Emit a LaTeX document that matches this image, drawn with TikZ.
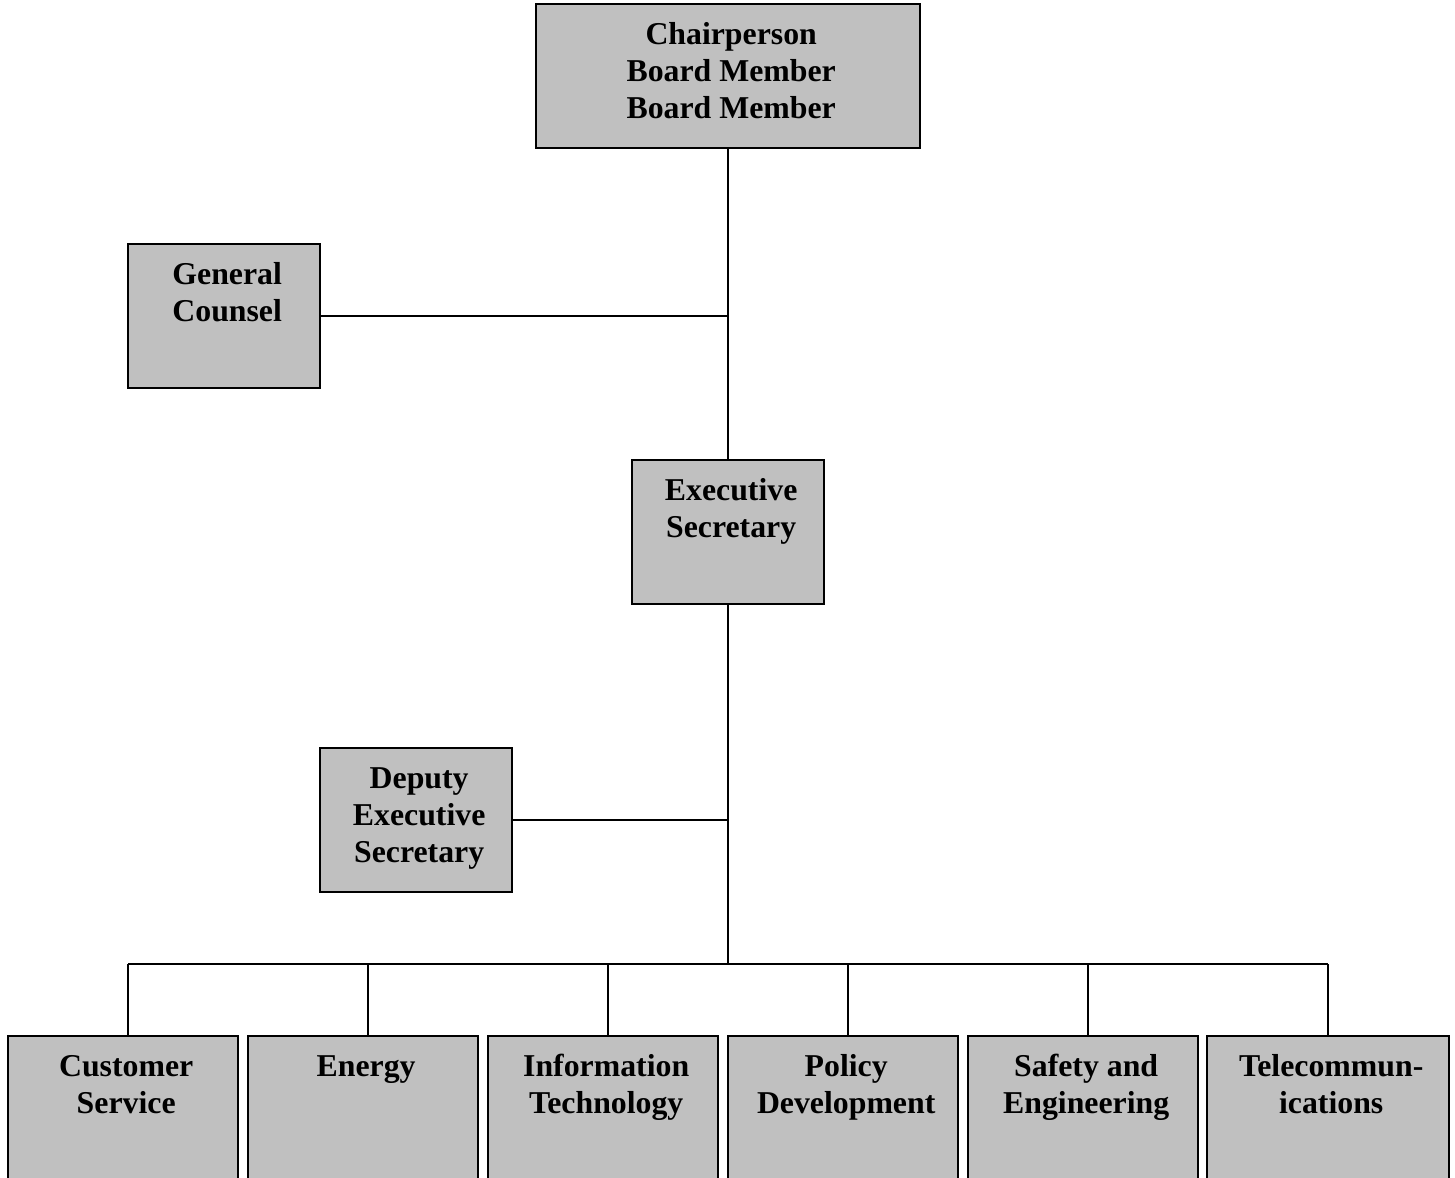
\documentclass[tikz,border=0pt]{standalone}
\usepackage{fontspec}
\setmainfont{Liberation Serif}
\definecolor{boxgray}{RGB}{192,192,192}
\newcommand\firstln{\rule{0pt}{9pt}}
\tikzset{
  unit/.style={draw, fill=boxgray, line width=0.75pt, inner sep=0pt},
  lbl/.style={anchor=north, inner sep=0pt, yshift=-6.5pt, xshift=1.2pt, align=center,
    font=\fontsize{12}{14}\selectfont\bfseries},
  wire/.style={line width=0.75pt}
}
\begin{document}
\begin{tikzpicture}[x=0.3774pt, y=-0.3774pt]
            \path [use as bounding box, clip] (0,0) rectangle (1455,1178);
            \node [unit, minimum width=144.9pt, minimum height=54.3pt,
                   label={[lbl]north:\firstln Chairperson\\Board Member\\Board Member}] (chair) at (728,76) {};
            \node [unit, minimum width=72.5pt, minimum height=54.3pt,
                   label={[lbl]north:\firstln General\\Counsel}] (gc) at (224,316) {};
            \node [unit, minimum width=72.5pt, minimum height=54.3pt,
                   label={[lbl]north:\firstln Executive\\Secretary}] (exec) at (728,532) {};
            \node [unit, minimum width=72.5pt, minimum height=54.3pt,
                   label={[lbl]north:\firstln Deputy\\Executive\\Secretary}] (dep) at (416,820) {};
            \node [unit, minimum width=86.8pt, minimum height=67.9pt,
                   label={[lbl]north:\firstln Customer\\Service}] (cs) at (123,1126) {};
            \node [unit, minimum width=86.8pt, minimum height=67.9pt,
                   label={[lbl]north:\firstln Energy}] (en) at (363,1126) {};
            \node [unit, minimum width=86.8pt, minimum height=67.9pt,
                   label={[lbl]north:\firstln Information\\Technology}] (it) at (603,1126) {};
            \node [unit, minimum width=86.8pt, minimum height=67.9pt,
                   label={[lbl]north:\firstln Policy\\Development}] (pd) at (843,1126) {};
            \node [unit, minimum width=86.8pt, minimum height=67.9pt,
                   label={[lbl]north:\firstln Safety and\\Engineering}] (se) at (1083,1126) {};
            \node [unit, minimum width=91pt, minimum height=67.9pt,
                   label={[lbl]north:\firstln Telecommun-\\ications}] (tc) at (1328,1126) {};
            \coordinate (d1) at (128,964);
            \coordinate (d2) at (368,964);
            \coordinate (d3) at (608,964);
            \coordinate (d4) at (848,964);
            \coordinate (d5) at (1088,964);
            \coordinate (d6) at (1328,964);
            \path [draw, wire] (chair) edge (exec);
            \path [draw, wire] (gc.east) edge (gc.east -| exec.north);
            \path [draw, wire] (exec.south) edge (exec.south |- d1);
            \path [draw, wire] (dep.east) edge (dep.east -| exec.south);
            \path [draw, wire] (d1) edge (d6);
            \path [draw, wire] (d1) edge (d1 |- cs.north);
            \path [draw, wire] (d2) edge (d2 |- en.north);
            \path [draw, wire] (d3) edge (d3 |- it.north);
            \path [draw, wire] (d4) edge (d4 |- pd.north);
            \path [draw, wire] (d5) edge (d5 |- se.north);
            \path [draw, wire] (d6) edge (d6 |- tc.north);
        \end{tikzpicture}
\end{document}
